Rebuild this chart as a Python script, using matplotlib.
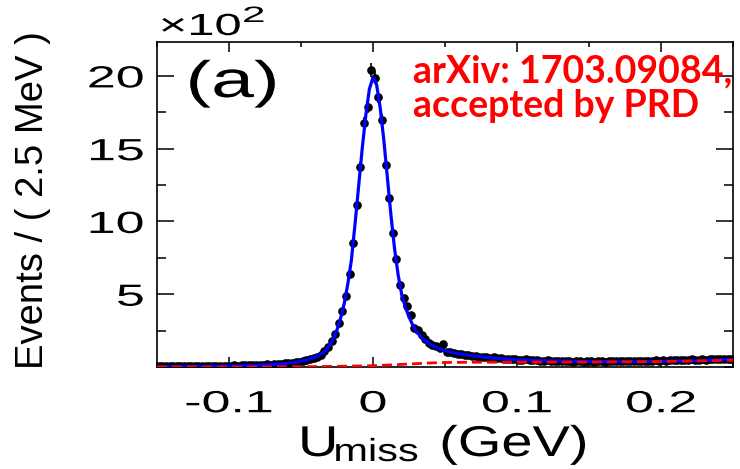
import numpy as np
import matplotlib
matplotlib.use("Agg")
import matplotlib.pyplot as plt
from matplotlib.patheffects import AbstractPathEffect
from matplotlib.transforms import Affine2D
from matplotlib.ticker import FixedLocator, MultipleLocator

# ---------------- data ----------------
bin_width = 0.0025          # GeV (2.5 MeV)
x_lo, x_hi = -0.15, 0.25    # GeV
# events per bin, in units of 10^2, 160 bins from -0.15 to 0.25 GeV
counts = [
    0.05, 0.06, 0.04, 0.07, 0.05, 0.06, 0.08, 0.05, 0.07, 0.06,
    0.08, 0.07, 0.09, 0.06, 0.08, 0.10, 0.07, 0.09, 0.10, 0.08,
    0.10, 0.12, 0.09, 0.11, 0.13, 0.12, 0.14, 0.13, 0.16, 0.15,
    0.18, 0.17, 0.21, 0.20, 0.24, 0.26, 0.25, 0.30, 0.33, 0.36,
    0.42, 0.47, 0.52, 0.62, 0.72, 0.85, 1.10, 1.40, 1.80, 2.30,
    3.00, 3.87, 4.88, 6.37, 8.54, 11.13, 13.73, 16.79, 17.89, 20.41,
    19.88, 18.58, 16.98, 13.88, 11.59, 9.19, 7.42, 5.64, 4.72, 4.19,
    3.57, 2.66, 2.54, 2.20, 1.95, 1.63, 1.50, 1.44, 1.30, 1.58,
    1.05, 1.02, 0.98, 0.92, 0.88, 0.85, 0.80, 0.78, 0.74, 0.72,
    0.70, 0.66, 0.64, 0.68, 0.60, 0.62, 0.58, 0.55, 0.56, 0.52,
    0.50, 0.48, 0.52, 0.46, 0.45, 0.48, 0.44, 0.42, 0.45, 0.40,
    0.42, 0.40, 0.43, 0.38, 0.41, 0.37, 0.40, 0.38, 0.36, 0.39,
    0.40, 0.37, 0.42, 0.38, 0.36, 0.40, 0.41, 0.38, 0.43, 0.40,
    0.38, 0.42, 0.40, 0.44, 0.39, 0.41, 0.43, 0.40, 0.45, 0.42,
    0.46, 0.44, 0.48, 0.45, 0.47, 0.50, 0.46, 0.49, 0.52, 0.48,
    0.50, 0.53, 0.49, 0.54, 0.52, 0.55, 0.53, 0.57, 0.55, 0.58,
]
# total fit curve (blue)
fit_x = [-0.15, -0.13, -0.11, -0.10, -0.09, -0.08, -0.07, -0.06, -0.055, -0.05,
         -0.045, -0.04, -0.035, -0.0325, -0.03, -0.0275, -0.025, -0.0225, -0.02, -0.0175,
         -0.015, -0.0125, -0.01, -0.0075, -0.005, -0.0025, 0.0, 0.0025, 0.005, 0.0075,
         0.01, 0.0125, 0.015, 0.0175, 0.02, 0.0225, 0.025, 0.0275, 0.03, 0.035,
         0.04, 0.045, 0.05, 0.06, 0.07, 0.08, 0.09, 0.10, 0.12, 0.14,
         0.16, 0.18, 0.20, 0.22, 0.24, 0.25]
fit_total = [0.02, 0.03, 0.05, 0.07, 0.09, 0.12, 0.17, 0.25, 0.31, 0.40,
             0.52, 0.68, 0.95, 1.18, 1.50, 1.95, 2.55, 3.35, 4.35, 5.70,
             7.35, 9.80, 12.40, 15.00, 17.30, 19.10, 19.90, 19.40, 17.80, 15.60,
             13.00, 10.40, 8.10, 6.30, 4.95, 4.10, 3.45, 2.90, 2.45, 1.90,
             1.55, 1.30, 1.12, 0.90, 0.76, 0.65, 0.56, 0.49, 0.43, 0.39,
             0.37, 0.37, 0.39, 0.42, 0.48, 0.52]
# background component (red dashed)
bkg_x = [-0.15, -0.10, -0.05, -0.03, -0.01, 0.0, 0.01, 0.02, 0.03, 0.04,
         0.05, 0.07, 0.10, 0.15, 0.20, 0.25]
bkg_y = [0.0, 0.0, 0.02, 0.04, 0.07, 0.09, 0.13, 0.18, 0.23, 0.28,
         0.31, 0.33, 0.33, 0.34, 0.38, 0.46]

xtick_vals = [-0.1, 0.0, 0.1, 0.2]
xtick_labels = ["-0.1", "0", "0.1", "0.2"]
ytick_vals = [5, 10, 15, 20]
ytick_labels = ["5", "10", "15", "20"]


# ---------------- helpers ----------------
class Stretch(AbstractPathEffect):
    """Draw text horizontally stretched (text stays a Text artist)."""
    def __init__(self, sx=1.0, anchor="center"):
        super().__init__()
        self.sx = sx
        self.anchor = anchor

    def draw_path(self, renderer, gc, tpath, affine, rgbFace=None):
        ext = tpath.get_extents()
        if self.anchor == "left":
            cx = ext.x0
        elif self.anchor == "right":
            cx = ext.x1
        else:
            cx = 0.5 * (ext.x0 + ext.x1)
        pre = Affine2D().translate(-cx, 0).scale(self.sx, 1.0).translate(cx, 0)
        renderer.draw_path(gc, tpath, pre + affine, rgbFace)


W, H = 740, 469


def fx(x):
    return x / W


def fy(y):
    return 1 - y / H


plt.rcParams["font.family"] = ["Liberation Sans", "DejaVu Sans"]

fig = plt.figure(figsize=(W / 100, H / 100), dpi=100)
ax = fig.add_axes([fx(157), fy(367), (733 - 157) / W, (367 - 41.7) / H])

centers = x_lo + bin_width / 2 + bin_width * np.arange(len(counts))
vals = np.array(counts)
yerr = np.sqrt(vals * 100) / 100

ax.errorbar(centers, vals, yerr=yerr, xerr=bin_width / 2, fmt="o", color="black",
            ms=5.2, elinewidth=1.2, capsize=0, zorder=3)
ax.plot(fit_x, fit_total, color="#0000ff", lw=2.3, zorder=4)
ax.plot(bkg_x, bkg_y, color="#ff0000", lw=2.0, dashes=(3.6, 1.8), zorder=5)

ax.set_xlim(x_lo, x_hi)
ax.set_ylim(0, 22.35)

ax.xaxis.set_major_locator(FixedLocator(xtick_vals))
ax.set_xticklabels(xtick_labels)
ax.xaxis.set_minor_locator(MultipleLocator(0.05))
ax.yaxis.set_major_locator(FixedLocator(ytick_vals))
ax.set_yticklabels(ytick_labels)
ax.yaxis.set_minor_locator(MultipleLocator(2.5))

ax.tick_params(which="both", direction="in", top=True, right=True, width=1.1)
ax.tick_params(axis="x", which="major", length=7.2, labelsize=22, pad=16)
ax.tick_params(axis="x", which="minor", length=3.6)
ax.tick_params(axis="y", which="major", length=12.2, labelsize=22, pad=9.5)
ax.tick_params(axis="y", which="minor", length=6.8)
for s in ax.spines.values():
    s.set_linewidth(1.2)

for lbl in ax.get_xticklabels():
    lbl.set_path_effects([Stretch(1.7, "center")])
for lbl in ax.get_yticklabels():
    lbl.set_path_effects([Stretch(1.7, "right")])

# y axis title
fig.text(fx(43), fy(200), "Events / ( 2.5 MeV )", rotation=90, fontsize=27.5,
         ha="center", va="baseline", rotation_mode="anchor")

# x axis title: U_miss (GeV)
fig.text(fx(299), fy(456), "U", fontsize=31, ha="left", va="baseline",
         path_effects=[Stretch(1.3, "left")])
fig.text(fx(334), fy(461), "miss", fontsize=23, ha="left", va="baseline",
         path_effects=[Stretch(1.3, "left")])
fig.text(fx(440), fy(456), "(GeV)", fontsize=31, ha="left", va="baseline",
         path_effects=[Stretch(1.3, "left")])

# exponent
fig.text(fx(160), fy(35), "\u00d710", fontsize=22, ha="left", va="baseline",
         path_effects=[Stretch(1.6, "left")])
fig.text(fx(243), fy(22), "2", fontsize=16, ha="left", va="baseline",
         path_effects=[Stretch(1.9, "left")])

# panel label
fig.text(fx(187), fy(97), "(a)", fontsize=37, ha="left", va="baseline",
         path_effects=[Stretch(1.5, "left")])

# annotation
fig.text(fx(413), fy(82), "arXiv: 1703.09084,", fontsize=27, color="#ff0000",
         family="Lato", fontweight="bold", ha="left", va="baseline")
fig.text(fx(413), fy(117), "accepted by PRD", fontsize=27, color="#ff0000",
         family="Lato", fontweight="bold", ha="left", va="baseline")

fig.savefig("out.png", dpi=100)
